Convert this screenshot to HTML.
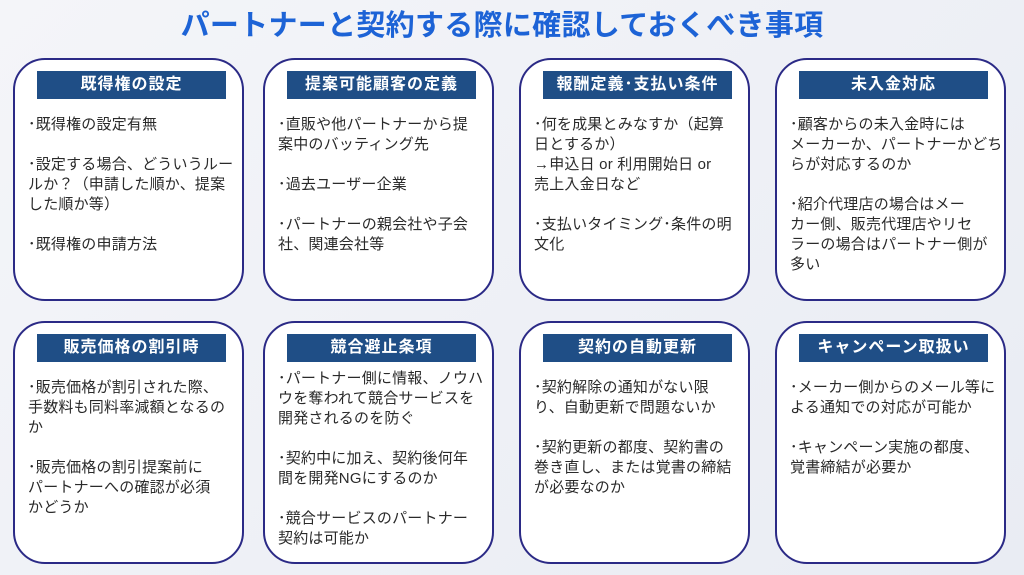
<!DOCTYPE html>
<html><head><meta charset="utf-8"><style>
html,body{margin:0;padding:0}
body{width:1024px;height:575px;overflow:hidden;position:relative;background:linear-gradient(135deg,#f4f5f9 0%,#e9ecf3 100%);font-family:"Liberation Sans","Noto Sans CJK JP",sans-serif}
.title{position:absolute;left:0;width:1004px;top:2px;text-align:center;font-size:29px;font-weight:bold;color:#1d63d6;letter-spacing:0.3px}
.box{position:absolute;width:227px;height:239px;border:2px solid #2b2a86;border-radius:32px;background:#fff;box-sizing:content-box}
.hd{position:absolute;left:22px;right:16px;top:11px;height:28px;background:#1f4e86;color:#fff;font-weight:bold;font-size:16px;line-height:28px;text-align:center;letter-spacing:1px}
.bd{position:absolute;left:13px;top:55px;right:2px;font-size:15px;line-height:20px;color:#2a2a2a;letter-spacing:0.2px;white-space:nowrap}
.bd p{margin:0 0 20px 0}
</style></head><body>
<div class="title">パートナーと契約する際に確認しておくべき事項</div>

<div class="box" style="left:13px;top:58px"><div class="hd">既得権の設定</div><div class="bd">
<p>･既得権の設定有無</p><p>･設定する場合、どういうルー<br>ルか？（申請した順か、提案<br>した順か等）</p><p>･既得権の申請方法</p></div></div>

<div class="box" style="left:263px;top:58px"><div class="hd">提案可能顧客の定義</div><div class="bd">
<p>･直販や他パートナーから提<br>案中のバッティング先</p><p>･過去ユーザー企業</p><p>･パートナーの親会社や子会<br>社、関連会社等</p></div></div>

<div class="box" style="left:519px;top:58px"><div class="hd">報酬定義･支払い条件</div><div class="bd">
<p>･何を成果とみなすか（起算<br>日とするか）<br>→申込日 or 利用開始日 or<br>売上入金日など</p><p>･支払いタイミング･条件の明<br>文化</p></div></div>

<div class="box" style="left:775px;top:58px"><div class="hd">未入金対応</div><div class="bd">
<p>･顧客からの未入金時には<br>メーカーか、パートナーかどち<br>らが対応するのか</p><p>･紹介代理店の場合はメー<br>カー側、販売代理店やリセ<br>ラーの場合はパートナー側が<br>多い</p></div></div>

<div class="box" style="left:13px;top:321px"><div class="hd">販売価格の割引時</div><div class="bd">
<p>･販売価格が割引された際、<br>手数料も同料率減額となるの<br>か</p><p>･販売価格の割引提案前に<br>パートナーへの確認が必須<br>かどうか</p></div></div>

<div class="box" style="left:263px;top:321px"><div class="hd">競合避止条項</div><div class="bd" style="top:46px">
<p>･パートナー側に情報、ノウハ<br>ウを奪われて競合サービスを<br>開発されるのを防ぐ</p><p>･契約中に加え、契約後何年<br>間を開発NGにするのか</p><p>･競合サービスのパートナー<br>契約は可能か</p></div></div>

<div class="box" style="left:519px;top:321px"><div class="hd">契約の自動更新</div><div class="bd">
<p>･契約解除の通知がない限<br>り、自動更新で問題ないか</p><p>･契約更新の都度、契約書の<br>巻き直し、または覚書の締結<br>が必要なのか</p></div></div>

<div class="box" style="left:775px;top:321px"><div class="hd">キャンペーン取扱い</div><div class="bd">
<p>･メーカー側からのメール等に<br>よる通知での対応が可能か</p><p>･キャンペーン実施の都度、<br>覚書締結が必要か</p></div></div>
</body></html>
